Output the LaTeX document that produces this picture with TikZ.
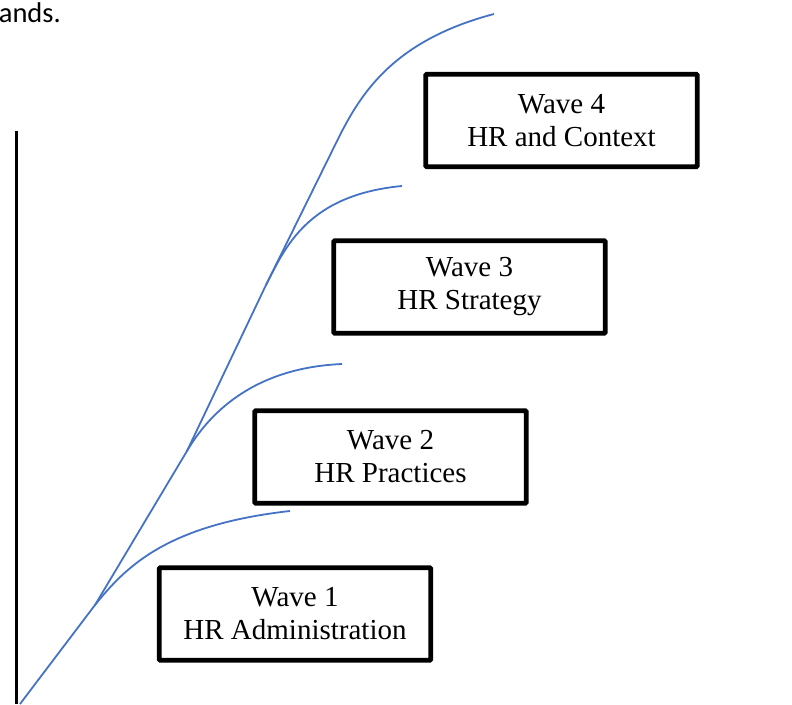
\documentclass[tikz,border=0pt]{standalone}
\usepackage{fontspec}
\setmainfont{Liberation Serif}
\newfontfamily\bodyfont{Carlito}
\usepackage{xcolor}
\usepackage{tikz}
\usetikzlibrary{positioning}

\definecolor{waveblue}{RGB}{68,114,196}

\tikzset{
  wavebox/.style={draw=black, line width=4.8pt, rounded corners=1pt, fill=white,
    minimum width=271.5pt, minimum height=92.5pt, inner sep=0pt,
    align=center, font=\fontsize{29}{33}\selectfont},
  waveline/.style={waveblue, line width=1.8pt},
  axisline/.style={black, line width=3.5pt}
}

\begin{document}
\begin{tikzpicture}[x=1pt, y=-1pt]
    \useasboundingbox (0,0) rectangle (792,704);

    \coordinate (A1) at (20, 704);
    \coordinate (K1) at (95, 605);
    \coordinate (E1) at (290, 511);

    \coordinate (K2) at (187, 451);
    \coordinate (E2) at (342, 364);

    \coordinate (K3) at (266, 285);
    \coordinate (E3) at (402, 186);

    \coordinate (K4) at (340, 135);
    \coordinate (E4) at (494, 14);

    \coordinate (AxTop) at (16.5, 131);
    \coordinate (AxBot) at (16.5, 704);

    \node [anchor=base east, inner sep=0pt, font=\bodyfont\fontsize{28.5}{32}\selectfont] (intro) at (61, 22) {ands.};

    \draw [axisline] (AxTop) to (AxBot);

    \draw [waveline] (A1) -- (K1) .. controls (125, 568) and (165, 525) .. (E1);
    \draw [waveline] (K1) -- (K2) .. controls (207, 417) and (250, 368) .. (E2);
    \draw [waveline] (K2) -- (K3) .. controls (285, 248) and (307, 195) .. (E3);
    \draw [waveline] (K3) -- (K4) .. controls (362, 92) and (395, 40) .. (E4);

    \node [wavebox] (wave1) at (295, 614) {Wave 1\\HR Administration};
    \node [wavebox] (wave2) at (390.5, 457) {Wave 2\\HR Practices};
    \node [wavebox] (wave3) at (469.5, 287) {Wave 3\\HR Strategy};
    \node [wavebox] (wave4) at (561.5, 120.5) {Wave 4\\HR and Context};
  \end{tikzpicture}
\end{document}
